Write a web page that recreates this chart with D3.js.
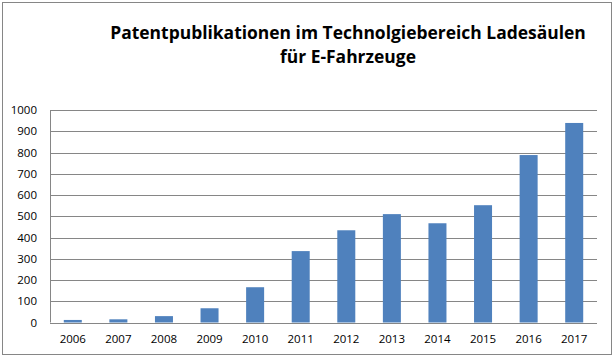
<!DOCTYPE html>
<html><head><meta charset="utf-8">
<script src="https://cdn.jsdelivr.net/npm/d3@7"></script>
<style>body{margin:0;background:#fff}svg{display:block}</style>
</head><body>
<svg id="c" width="615" height="360"></svg>
<script>
const years = ["2006","2007","2008","2009","2010","2011","2012","2013","2014","2015","2016","2017"];
const values = [12,15,30,67,166,336,434,510,467,552,788,939];
const yTicks = [0,100,200,300,400,500,600,700,800,900,1000];
const titleLines = ["Patentpublikationen im Technolgiebereich Ladesäulen","für E-Fahrzeuge"];

const svg = d3.select("#c");
const font = "'Open Sans', 'Liberation Sans', sans-serif";
svg.append("rect").attr("x",2.5).attr("y",2.5).attr("width",609).attr("height",352)
  .attr("fill","#fff").attr("stroke","#868686").attr("stroke-width",1);

const L=50, R=597, T=110, B=322.5;
const x = d3.scaleBand().domain(years).range([L,R]).paddingInner(0.605).paddingOuter(0.3025);
const y = d3.scaleLinear().domain([0,1000]).range([B,T]);

const g = svg.append("g");
g.selectAll("line.grid").data(yTicks).join("line").attr("class","grid")
  .attr("x1",L).attr("x2",R).attr("y1",d=>Math.round(y(d))+0.5).attr("y2",d=>Math.round(y(d))+0.5)
  .attr("stroke","#868686").attr("stroke-width",1);
g.append("line").attr("x1",L+0.5).attr("x2",L+0.5).attr("y1",T).attr("y2",B).attr("stroke","#868686");

g.selectAll("rect.bar").data(values).join("rect").attr("class","bar")
  .attr("x",(d,i)=>x(years[i])).attr("width",x.bandwidth())
  .attr("y",d=>y(d)).attr("height",d=>B-y(d)).attr("fill","#4F81BD");

g.selectAll("text.yl").data(yTicks).join("text").attr("class","yl")
  .attr("x",37).attr("y",d=>y(d)).attr("dy","0.35em").attr("text-anchor","end")
  .style("font-family",font).style("font-size","11.5px").attr("fill","#000").text(d=>d);

g.selectAll("text.xl").data(years).join("text").attr("class","xl")
  .attr("x",d=>x(d)+x.bandwidth()/2).attr("y",343).attr("text-anchor","middle")
  .style("font-family",font).style("font-size","11.5px").attr("fill","#000").text(d=>d);

const t1 = svg.append("text").attr("x",348).attr("y",39).attr("text-anchor","middle")
  .style("font-family",font).style("font-weight","bold").style("font-size","16px").text(titleLines[0]);
const w = t1.node().getComputedTextLength();
const fs = 16*476/w;
t1.style("font-size",fs+"px");
svg.append("text").attr("x",348).attr("y",63).attr("text-anchor","middle")
  .style("font-family",font).style("font-weight","bold").style("font-size",fs+"px").text(titleLines[1]);
</script>
</body></html>
